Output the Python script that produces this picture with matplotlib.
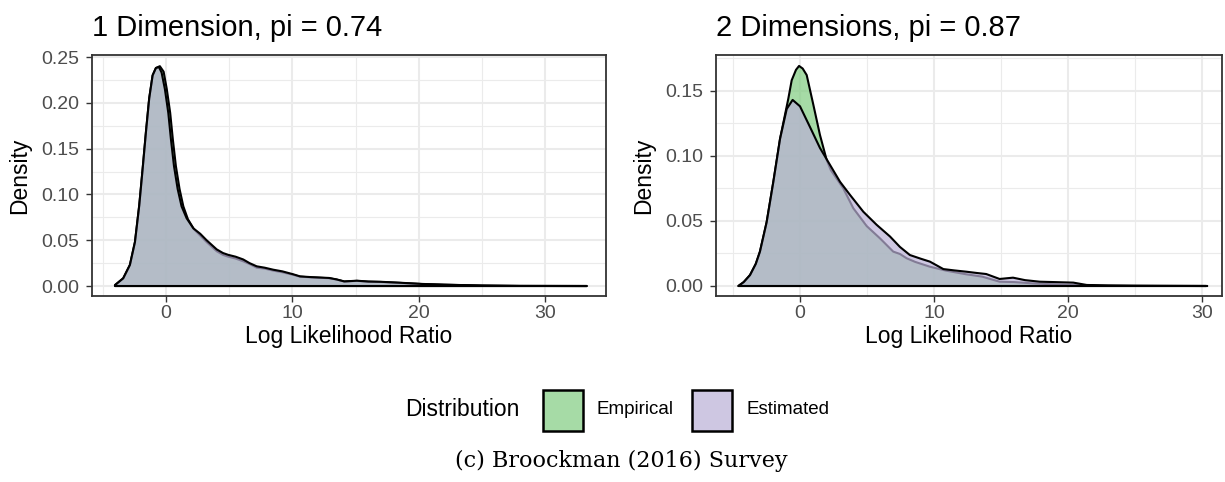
import matplotlib
matplotlib.use("Agg")
import matplotlib.pyplot as plt
from matplotlib.patches import Polygon, Rectangle
from matplotlib.ticker import MultipleLocator
import numpy as np

plt.rcParams['font.family'] = ['Liberation Sans', 'DejaVu Sans']

# ---------------- data ----------------
titles = ["1 Dimension, pi = 0.74", "2 Dimensions, pi = 0.87"]
series_names = ["Empirical", "Estimated"]

# Panel 1 (1 Dimension)
p1_est_x = [-4.05, -3.4, -2.87, -2.47, -2.13, -1.86, -1.6, -1.34, -1.07, -0.81, -0.57,
            -0.36, -0.1, 0.17, 0.38, 0.62, 0.91, 1.22, 1.62, 2.15, 2.7, 3.2, 3.6, 4.0,
            4.5, 4.92, 5.5, 6.1, 6.6, 7.17, 7.8, 8.48, 9.2, 10.06, 10.6, 11.5, 12.9,
            13.5, 14.1, 15.1, 16.0, 17.0, 18.5, 20.2, 22.0, 25.0, 28.0, 33.3]
p1_est_y = [0.001, 0.0084, 0.023, 0.048, 0.088, 0.128, 0.168, 0.205, 0.230, 0.238, 0.239,
            0.233, 0.215, 0.189, 0.160, 0.131, 0.106, 0.087, 0.074, 0.063, 0.057, 0.050,
            0.045, 0.040, 0.036, 0.034, 0.032, 0.029, 0.025, 0.0215, 0.020, 0.0178, 0.016,
            0.0128, 0.0105, 0.0097, 0.0088, 0.0072, 0.005, 0.0058, 0.0049, 0.0046, 0.0036,
            0.0023, 0.0015, 0.0005, 0.0001, 0.0]
p1_emp_x = [-4.05, -3.4, -2.87, -2.47, -2.13, -1.86, -1.6, -1.34, -1.07, -0.81, -0.5,
            -0.2, 0.05, 0.32, 0.53, 0.77, 1.06, 1.36, 1.72, 2.2, 2.7, 3.2, 3.6, 4.0,
            4.5, 4.92, 5.5, 6.1, 6.6, 7.17, 7.8, 8.48, 9.2, 10.06, 10.6, 11.5, 12.9,
            13.5, 14.1, 15.1, 16.0, 17.0, 18.5, 20.2, 22.0, 25.0, 28.0, 33.3]
p1_emp_y = [0.001, 0.0084, 0.023, 0.048, 0.088, 0.128, 0.168, 0.205, 0.230, 0.238, 0.240,
            0.234, 0.215, 0.189, 0.160, 0.131, 0.106, 0.087, 0.073, 0.062, 0.055, 0.048,
            0.043, 0.038, 0.034, 0.032, 0.030, 0.027, 0.024, 0.020, 0.019, 0.0168, 0.015,
            0.0122, 0.0102, 0.0094, 0.0085, 0.007, 0.0049, 0.0056, 0.0047, 0.0044, 0.0034,
            0.0022, 0.0014, 0.0005, 0.0001, 0.0]

# Panel 2 (2 Dimensions)
p2_est_x = [-4.6, -4.2, -3.73, -3.3, -2.99, -2.49, -1.99, -1.49, -0.99, -0.55, 0.0, 0.75,
            1.49, 2.24, 2.99, 3.73, 4.73, 5.72, 6.72, 7.46, 8.2, 9.0, 9.7, 10.7, 11.5,
            12.4, 13.2, 13.9, 14.9, 15.9, 16.8, 17.9, 19.0, 20.4, 21.4, 23.0, 24.9, 27.0, 30.4]
p2_est_y = [0.0, 0.003, 0.0084, 0.017, 0.0264, 0.049, 0.080, 0.113, 0.136, 0.1429, 0.138,
            0.122, 0.106, 0.093, 0.080, 0.070, 0.057, 0.047, 0.038, 0.030, 0.0238, 0.021,
            0.0187, 0.013, 0.012, 0.011, 0.010, 0.0092, 0.0054, 0.0064, 0.0045, 0.0033,
            0.0030, 0.0026, 0.0008, 0.0004, 0.0002, 0.0001, 0.0]
p2_emp_x = [-4.6, -4.2, -3.73, -3.3, -2.99, -2.49, -1.99, -1.49, -0.87, -0.62, -0.3, -0.07,
            0.2, 0.5, 1.0, 1.49, 1.99, 2.3, 2.7, 3.23, 3.98, 4.98, 5.97, 6.96, 7.46, 7.96,
            8.6, 9.7, 10.9, 12.4, 13.6, 14.9, 16.0, 17.4, 18.5, 19.9, 21.0, 22.4, 25.0, 30.3]
p2_emp_y = [0.0, 0.003, 0.0084, 0.017, 0.0264, 0.049, 0.080, 0.113, 0.144, 0.158, 0.166,
            0.169, 0.167, 0.162, 0.139, 0.116, 0.0968, 0.089, 0.083, 0.075, 0.0597, 0.046,
            0.0366, 0.0264, 0.0246, 0.0213, 0.0185, 0.0148, 0.0118, 0.009, 0.0072, 0.0033,
            0.0030, 0.002, 0.0015, 0.0008, 0.0006, 0.0002, 0.0001, 0.0]

x_ticks = [0, 10, 20, 30]
y_ticks_1 = [0.00, 0.05, 0.10, 0.15, 0.20, 0.25]
y_ticks_2 = [0.00, 0.05, 0.10, 0.15]

# ---------------- style ----------------
W, H = 1225, 482
fill_colors = {"Empirical": "#80CC80", "Estimated": "#BAB0D6"}
ALPHA = 0.7
grid_col = "#EBEBEB"
border_col = "#333333"
tick_lab_col = "#4D4D4D"

fig = plt.figure(figsize=(W / 100, H / 100), dpi=100)

def px_axes(x0, y0, x1, y1):
    return fig.add_axes([x0 / W, 1 - y1 / H, (x1 - x0) / W, (y1 - y0) / H])

panels = [
    dict(box=(92, 55, 606, 296), xlim=(-5.87, 34.82), ylim=(-0.0109, 0.2522),
         yt=y_ticks_1, data={"Empirical": (p1_emp_x, p1_emp_y), "Estimated": (p1_est_x, p1_est_y)}),
    dict(box=(716, 55, 1222, 296), xlim=(-6.27, 31.5), ylim=(-0.00768, 0.1774),
         yt=y_ticks_2, data={"Empirical": (p2_emp_x, p2_emp_y), "Estimated": (p2_est_x, p2_est_y)}),
]

for i, p in enumerate(panels):
    ax = px_axes(*p["box"])
    ax.set_xlim(*p["xlim"])
    ax.set_ylim(*p["ylim"])
    ax.set_xticks(x_ticks)
    ax.set_yticks(p["yt"])
    ax.xaxis.set_minor_locator(MultipleLocator(5))
    ax.yaxis.set_minor_locator(MultipleLocator(0.025))
    ax.set_xticklabels([str(t) for t in x_ticks])
    ax.set_yticklabels([f"{t:.2f}" for t in p["yt"]])
    ax.grid(which="major", color=grid_col, linewidth=1.5, zorder=0)
    ax.grid(which="minor", color=grid_col, linewidth=0.8, zorder=0)
    ax.set_axisbelow(True)
    ax.tick_params(which="major", length=4, width=1.0, color=border_col,
                   labelcolor=tick_lab_col, labelsize=14)
    ax.tick_params(axis="y", which="major", pad=5.5)
    ax.tick_params(axis="x", which="major", pad=2.5)
    ax.tick_params(which="minor", length=0)
    for s in ax.spines.values():
        s.set_color(border_col)
        s.set_linewidth(1.3)
    for name in series_names:
        xs, ys = p["data"][name]
        xs = np.asarray(xs); ys = np.asarray(ys)
        verts = np.column_stack([np.concatenate([xs, xs[::-1]]),
                                 np.concatenate([ys, np.zeros_like(ys)])])
        poly = Polygon(verts, closed=True,
                       facecolor=matplotlib.colors.to_rgba(fill_colors[name], ALPHA),
                       edgecolor="black", linewidth=1.5, joinstyle="round", zorder=2)
        ax.add_patch(poly)
    ax.set_xlabel("Log Likelihood Ratio", fontsize=16.5, color="black", labelpad=2)
    ax.set_ylabel("Density", fontsize=16.5, color="black", labelpad=7)
    ax.set_title(titles[i], loc="left", fontsize=21, color="black", pad=14)

# ---------------- legend ----------------
leg_y = 410
fig.text(405 / W, 1 - leg_y / H, "Distribution", fontsize=16.5, ha="left", va="center")
key_pos = [(543, "Empirical", 597), (692, "Estimated", 747)]
for kx, name, tx in key_pos:
    rect = Rectangle((kx / W, 1 - 431 / H), 40 / W, 41 / H, transform=fig.transFigure,
                     facecolor=matplotlib.colors.to_rgba(fill_colors[name], ALPHA),
                     edgecolor="black", linewidth=1.8)
    fig.patches.append(rect)
    fig.text(tx / W, 1 - leg_y / H, name, fontsize=13.5, ha="left", va="center")

fig.text(621 / W, 1 - 461 / H, "(c) Broockman (2016) Survey", fontsize=16,
         family="DejaVu Serif", ha="center", va="center")

fig.savefig("out.png", dpi=100)
